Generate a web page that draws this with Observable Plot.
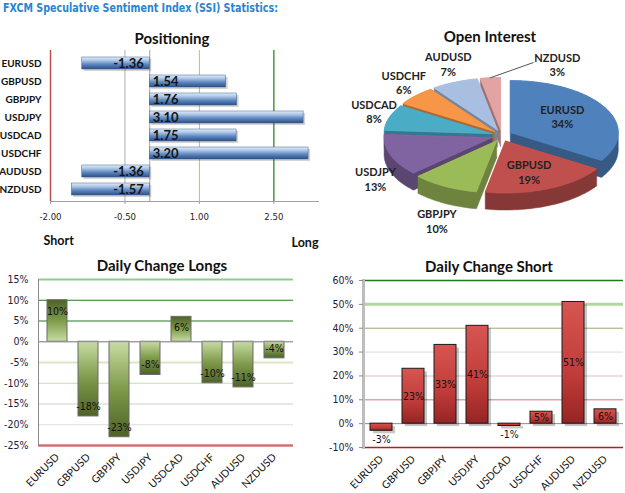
<!DOCTYPE html>
<html>
<head>
<meta charset="utf-8">
<script src="https://cdn.jsdelivr.net/npm/d3@7"></script>
<script src="https://cdn.jsdelivr.net/npm/@observablehq/plot@0.6"></script>
<style>
  html, body { margin: 0; padding: 0; background: #fff; }
  #root { position: relative; width: 625px; height: 493px; overflow: hidden; background: #fff; }
  .panel { position: absolute; }
  .ttl { position: absolute; transform: translate(-50%, -50%); font-family: Lato, sans-serif; font-weight: bold; font-size: 15px; color: #111; white-space: nowrap; }
</style>
</head>
<body>
<div id="root"></div>
<script>
// ---------------- DATA ----------------
const pairs = ["EURUSD", "GBPUSD", "GBPJPY", "USDJPY", "USDCAD", "USDCHF", "AUDUSD", "NZDUSD"];
const positioning = [-1.36, 1.54, 1.76, 3.10, 1.75, 3.20, -1.36, -1.57];
const openInterest = [34, 19, 10, 13, 8, 6, 7, 3];
const changeLongs = [10, -18, -23, -8, 6, -10, -11, -4];
const changeShorts = [-3, 23, 33, 41, -1, 5, 51, 6];
const positionTicks = [-2, -0.5, 1, 2.5];
const longTicks = [15, 10, 5, 0, -5, -10, -15, -20, -25];
const shortTicks = [60, 50, 40, 30, 20, 10, 0, -10];
const headerText = "FXCM Speculative Sentiment Index (SSI) Statistics:";
const titles = ["Positioning", "Open Interest", "Daily Change Longs", "Daily Change Short"];

// ---------------- STYLES ----------------
const pieColors = ["#4f81bd", "#c0504d", "#9bbb59", "#8064a2", "#4bacc6", "#f79646", "#a9bfe2", "#e3a3a3"];
const longGrid = {"15": ["#8fcc8f", 2], "10": ["#237a23", 1], "5": ["#237a23", 1], "0": ["#9a9a9a", 1], "-5": ["#dbe6c4", 2], "-10": ["#c4deb0", 1], "-15": ["#cfcfcf", 1], "-20": ["#dedede", 1], "-25": ["#d07070", 2.5]};
const shortGrid = {"60": ["#1f7a1f", 1.5], "50": ["#b0d89c", 3], "40": ["#a3a373", 1], "30": ["#dcdcdc", 1], "20": ["#ecd2d2", 1.5], "10": ["#e3a3a3", 1.5], "0": ["#8a8a8a", 1], "-10": ["#b41e1e", 1.5]};
const tickFont = "'DejaVu Sans Condensed', 'DejaVu Sans', sans-serif";

const root = document.getElementById("root");

function place(node, left, top) {
  node.classList.add("panel");
  node.style.left = left + "px";
  node.style.top = top + "px";
  root.appendChild(node);
  return node;
}
function addDefs(svg, grads) {
  const defs = d3.select(svg).insert("defs", ":first-child");
  for (const g of grads) {
    const lg = defs.append("linearGradient").attr("id", g.id)
      .attr("x1", 0).attr("y1", 0).attr("x2", g.horizontal ? 1 : 0).attr("y2", g.horizontal ? 0 : 1);
    for (const [o, c] of g.stops) lg.append("stop").attr("offset", o).attr("stop-color", c);
  }
}
function title(text, cx, cy) {
  const d = document.createElement("div");
  d.className = "ttl";
  d.textContent = text;
  d.style.left = cx + "px";
  d.style.top = cy + "px";
  root.appendChild(d);
}

// ---------------- HEADER ----------------
{
  const ns = "http://www.w3.org/2000/svg";
  const svg = document.createElementNS(ns, "svg");
  svg.setAttribute("width", 625); svg.setAttribute("height", 22);
  const t = document.createElementNS(ns, "text");
  t.setAttribute("x", 3); t.setAttribute("y", 12);
  t.setAttribute("textLength", 275); t.setAttribute("lengthAdjust", "spacingAndGlyphs");
  t.setAttribute("font-family", "'DejaVu Sans Condensed', 'DejaVu Sans', sans-serif");
  t.setAttribute("font-weight", "bold"); t.setAttribute("font-size", 12);
  t.setAttribute("fill", "#2a84d2");
  t.textContent = headerText;
  svg.appendChild(t);
  place(svg, 0, 0);
}

// ---------------- POSITIONING ----------------
{
  const data = pairs.map((p, i) => ({pair: p, v: positioning[i]}));
  const svg = Plot.plot({
    width: 320, height: 250,
    marginLeft: 50, marginRight: 2, marginTop: 50, marginBottom: 49,
    style: {fontFamily: tickFont, background: "transparent"},
    x: {domain: [-2, 3.4]},
    y: {domain: pairs, padding: 0.36},
    marks: [
      Plot.ruleX([positionTicks[0]], {stroke: "#c0504d", strokeWidth: 1.5}),
      Plot.ruleX([positionTicks[1]], {stroke: "#b0b0b0"}),
      Plot.ruleX([positionTicks[2]], {stroke: "#9bcf7d"}),
      Plot.ruleX([positionTicks[3]], {stroke: "#4a9a3a", strokeWidth: 1.5}),
      Plot.ruleX([0], {stroke: "#a0a0a0"}),
      Plot.frame({anchor: "bottom", stroke: "#a0a0a0"}),
      Plot.barX(data, {x: "v", y: "pair", fill: "#555", fillOpacity: 0.25, dx: 2, dy: 2}),
      Plot.barX(data, {x: "v", y: "pair", fill: "url(#gPos)", stroke: "#3a5f8f", strokeWidth: 0.5}),
      Plot.text(data.filter(d => d.v < 0), {x: 0, y: "pair", text: d => d.v.toFixed(2), textAnchor: "end", dx: -6,
        fontFamily: "Lato, sans-serif", fontWeight: "bold", fontSize: 13, fill: "#151515"}),
      Plot.text(data.filter(d => d.v >= 0), {x: 0, y: "pair", text: d => d.v.toFixed(2), textAnchor: "start", dx: 3,
        fontFamily: "Lato, sans-serif", fontWeight: "bold", fontSize: 13, fill: "#151515"}),
      Plot.axisY({tickSize: 0, tickPadding: 9, fontFamily: "Lato, sans-serif", fontWeight: "bold", fontSize: 10, fill: "#111", label: null}),
      Plot.axisX({ticks: positionTicks, tickFormat: d => d.toFixed(2), tickSize: 3, tickPadding: 9, fontSize: 9.5, fill: "#222", stroke: "#a0a0a0", label: null}),
      Plot.text(["Short"], {frameAnchor: "bottom-left", dx: -7, dy: 43, text: d => d, textAnchor: "start",
        fontFamily: "Lato, sans-serif", fontWeight: "bold", fontSize: 12.5, fill: "#111"}),
      Plot.text(["Long"], {frameAnchor: "bottom-right", dy: 45, text: d => d, textAnchor: "end",
        fontFamily: "Lato, sans-serif", fontWeight: "bold", fontSize: 12.5, fill: "#111"})
    ]
  });
  addDefs(svg, [{id: "gPos", stops: [[0, "#e4eef9"], [0.3, "#a9c3e4"], [0.6, "#5f89c0"], [1, "#2c5084"]]}]);
  place(svg, 0, 0);
  title(titles[0], 172, 38);
}

// ---------------- OPEN INTEREST (3D pie) ----------------
{
  const cx = 181, cy = 135, rx = 108, ry = 52, depth = 17, ex = 10, ey = 6;
  const arcs = d3.pie().sort(null).value(d => d)(openInterest);
  const slices = arcs.map((a, i) => {
    const am = (a.startAngle + a.endAngle) / 2;
    const ox = ex * Math.sin(am), oy = -ey * Math.cos(am);
    const pts = [[cx + ox, cy + oy]];
    const n = Math.max(4, Math.ceil((a.endAngle - a.startAngle) / 0.03));
    for (let k = 0; k <= n; k++) {
      const t = a.startAngle + (a.endAngle - a.startAngle) * k / n;
      pts.push([cx + ox + rx * Math.sin(t), cy + oy - ry * Math.cos(t)]);
    }
    const hull = d3.polygonHull(pts.concat(pts.map(([x, y]) => [x, y + depth])));
    return {i, am, pts: pts.concat([pts[0]]), hull: hull.concat([hull[0]]), color: pieColors[i], ox, oy,
            yc: cy + oy - ry * 0.5 * Math.cos(am)};
  });
  const order = slices.slice().sort((a, b) => a.yc - b.yc);
  const marks = [];
  for (const s of order) {
    const dark = d3.color(s.color).darker(1.0).formatHex();
    marks.push(Plot.line(s.hull, {x: d => d[0], y: d => d[1], fill: dark, stroke: dark, strokeWidth: 0.5, curve: "linear"}));
  }
  for (const s of order) {
    marks.push(Plot.line(s.pts, {x: d => d[0], y: d => d[1], fill: s.color, stroke: d3.color(s.color).brighter(0.2).formatHex(), strokeWidth: 0.6, curve: "linear"}));
  }
  // labels
  const minShare = d3.min(openInterest);
  const labels = slices.map(s => {
    const share = openInterest[s.i];
    let x, y, leader = null;
    if (share >= 15) {
      x = cx + s.ox + rx * 0.55 * Math.sin(s.am);
      y = cy + s.oy - ry * 0.65 * Math.cos(s.am);
    } else {
      const a = share === minShare ? s.am + Math.PI / 6 : s.am;
      x = cx + (rx + 26) * Math.sin(a);
      y = cy - (ry + 26) * Math.cos(a) + (Math.cos(a) < 0 ? depth : 0);
      if (share === minShare) {
        leader = [[cx + s.ox + rx * Math.sin(s.am), cy + s.oy - ry * Math.cos(s.am)], [x - 24, y - 2]];
      }
    }
    return {x, y, text: pairs[s.i] + "\n" + share + "%", leader};
  });
  for (const l of labels) if (l.leader) marks.push(Plot.line(l.leader, {x: d => d[0], y: d => d[1], stroke: "#555", strokeWidth: 1}));
  marks.push(Plot.text(labels, {x: "x", y: "y", text: "text", lineHeight: 1.3, fontFamily: "Lato, sans-serif", fontWeight: "bold", fontSize: 11, fill: "#222"}));
  const svg = Plot.plot({
    width: 305, height: 250, margin: 0,
    style: {background: "transparent"},
    x: {type: "identity", axis: null},
    y: {type: "identity", axis: null},
    marks
  });
  place(svg, 320, 0);
  title(titles[1], 490, 36);
}

// ---------------- DAILY CHANGE LONGS ----------------
{
  const data = pairs.map((p, i) => ({pair: p, v: changeLongs[i]}));
  const svg = Plot.plot({
    width: 310, height: 243,
    marginLeft: 38, marginRight: 17, marginTop: 29, marginBottom: 48,
    style: {fontFamily: tickFont, background: "transparent"},
    x: {domain: pairs, paddingInner: 0.34, paddingOuter: 0.17},
    y: {domain: [-25, 15]},
    marks: [
      ...longTicks.map(t => Plot.ruleY([t], {stroke: longGrid[t][0], strokeWidth: longGrid[t][1]})),
      Plot.frame({anchor: "left", stroke: "#8a8a8a"}),
      Plot.barY(data.filter(d => d.v >= 0), {x: "pair", y: "v", fill: "url(#gLongPos)", stroke: "#6b6b6b", strokeWidth: 1}),
      Plot.barY(data.filter(d => d.v < 0), {x: "pair", y: "v", fill: "url(#gLongNeg)", stroke: "#6b6b6b", strokeWidth: 1}),
      Plot.ruleY([0], {stroke: "#9a9a9a"}),
      Plot.text(data.filter(d => d.v >= 0), {x: "pair", y: "v", text: d => d.v + "%", dy: 11, fontSize: 10.5, fill: "#111"}),
      Plot.text(data.filter(d => d.v < 0), {x: "pair", y: "v", text: d => d.v + "%", dy: -10, fontSize: 10.5, fill: "#111"}),
      Plot.axisY({ticks: longTicks, tickFormat: d => d + "%", tickSize: 0, tickPadding: 10, fontSize: 10.5, fill: "#1c1c3a", label: null}),
      Plot.axisX({tickRotate: -45, tickSize: 0, tickPadding: 10, fontFamily: "Lato, sans-serif", fontSize: 10.5, fill: "#111", label: null})
    ]
  });
  addDefs(svg, [
    {id: "gLongPos", stops: [[0, "#4f6228"], [0.5, "#7e9a4a"], [1, "#c9dca4"]]},
    {id: "gLongNeg", stops: [[0, "#c9dca4"], [0.5, "#7e9a4a"], [1, "#4f6228"]]}
  ]);
  place(svg, 0, 250);
  title(titles[2], 162, 265);
}

// ---------------- DAILY CHANGE SHORT ----------------
{
  const data = pairs.map((p, i) => ({pair: p, v: changeShorts[i]}));
  const svg = Plot.plot({
    width: 315, height: 243,
    marginLeft: 53, marginRight: 2, marginTop: 30, marginBottom: 46,
    style: {fontFamily: tickFont, background: "transparent"},
    x: {domain: pairs, paddingInner: 0.32, paddingOuter: 0.16},
    y: {domain: [-10, 60]},
    marks: [
      ...shortTicks.map(t => Plot.ruleY([t], {stroke: shortGrid[t][0], strokeWidth: shortGrid[t][1]})),
      Plot.barY(data, {x: "pair", y: "v", fill: "#000", fillOpacity: 0.22, dx: 3, dy: 3}),
      Plot.barY(data, {x: "pair", y: "v", fill: "url(#gShort)", stroke: "#1a1a1a", strokeWidth: 1}),
      Plot.frame({anchor: "left", stroke: "#bdbdbd", strokeWidth: 3}),
      Plot.text(data.filter(d => d.v >= 0), {x: "pair", y: d => d.v / 2, text: d => d.v + "%", fontSize: 10.5, fill: "#111"}),
      Plot.text(data.filter(d => d.v < 0), {x: "pair", y: "v", text: d => d.v + "%", dy: 9, fontSize: 10.5, fill: "#111"}),
      Plot.axisY({ticks: shortTicks, tickFormat: d => d + "%", tickSize: 4, tickPadding: 6, stroke: "#8a8a8a", fontSize: 10.5, fill: "#1c1c3a", label: null}),
      Plot.axisX({tickRotate: -45, tickSize: 0, tickPadding: 10, fontFamily: "Lato, sans-serif", fontSize: 10.5, fill: "#111", label: null})
    ]
  });
  addDefs(svg, [{id: "gShort", stops: [[0, "#d65652"], [0.6, "#c03c39"], [1, "#962523"]]}]);
  place(svg, 310, 250);
  title(titles[3], 489, 266);
}
</script>
</body>
</html>
